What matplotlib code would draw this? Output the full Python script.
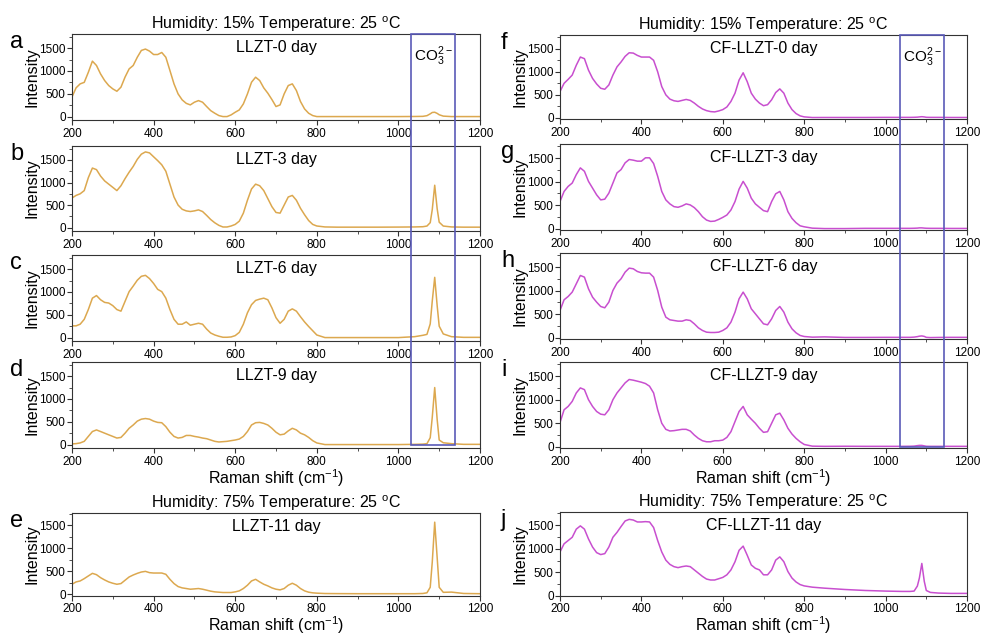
import matplotlib
matplotlib.use('Agg')
import matplotlib.pyplot as plt
import numpy as np
from matplotlib.patches import Rectangle
from matplotlib.ticker import MultipleLocator

plt.rcParams['font.family'] = ['Liberation Sans', 'DejaVu Sans']

# Raman shift sampling grid (cm-1)
shift = np.concatenate([np.arange(200, 801, 10),
                        [820, 850, 900, 950, 1000, 1040, 1060, 1070, 1078, 1083,
                         1089, 1095, 1100, 1110, 1130, 1160, 1200]])

# LLZT, humidity 15 % (a-d) and 75 % (e)
llzt_0 = [430, 630, 717, 750, 970, 1215, 1120, 935, 790, 680,
          607, 555, 645, 865, 1045, 1120, 1300, 1450, 1480, 1435,
          1360, 1360, 1405, 1300, 1010, 717, 497, 366, 290, 256,
          315, 350, 315, 220, 130, 73, 22, 0, 0, 37,
          95, 146, 278, 497, 753, 863, 790, 629, 512, 373,
          220, 256, 497, 680, 717, 570, 330, 168, 73, 22, 0,
          0, 0, 0, 0, 0, 2, 5, 20, 60, 90, 95, 70, 40, 10, 0, 0, 0]
llzt_3 = [657, 714, 750, 821, 1107, 1321, 1286, 1143, 1036, 964,
          893, 821, 929, 1086, 1229, 1357, 1514, 1629, 1679, 1657,
          1571, 1486, 1393, 1250, 964, 679, 500, 407, 371, 357,
          371, 393, 357, 271, 179, 107, 50, 14, 14, 36,
          71, 143, 321, 607, 857, 964, 929, 821, 643, 464,
          336, 321, 500, 679, 714, 607, 429, 286, 157, 71, 36,
          15, 10, 10, 10, 12, 15, 20, 35, 110, 400, 940, 420, 120, 35, 15, 10, 10]
llzt_6 = [257, 257, 293, 400, 614, 864, 921, 829, 771, 757,
          700, 614, 579, 793, 1007, 1129, 1257, 1343, 1364, 1293,
          1186, 1057, 1007, 864, 614, 400, 293, 293, 343, 271,
          293, 314, 293, 186, 100, 57, 29, 7, 7, 14,
          43, 114, 293, 543, 721, 814, 843, 864, 829, 650,
          436, 314, 400, 579, 629, 579, 457, 343, 243, 150, 57,
          0, 0, 0, 0, 0, 20, 50, 70, 300, 800, 1320, 700, 250, 80, 20, 5, 5]
llzt_9 = [14, 21, 36, 71, 179, 286, 321, 286, 250, 214,
          179, 143, 157, 250, 357, 429, 514, 557, 571, 557,
          514, 486, 479, 393, 271, 179, 143, 157, 200, 200,
          179, 164, 143, 129, 100, 71, 57, 64, 71, 86,
          100, 121, 179, 286, 429, 479, 486, 464, 429, 357,
          271, 214, 229, 300, 357, 321, 250, 214, 157, 86, 36,
          0, 0, 0, 0, 0, 5, 10, 20, 150, 600, 1250, 550, 100, 40, 20, 5, 5]
llzt_11 = [216, 267, 288, 339, 397, 454, 425, 360, 310, 267,
           238, 216, 231, 303, 375, 418, 454, 483, 497, 469,
           461, 461, 461, 433, 324, 231, 166, 137, 123, 108,
           115, 123, 108, 87, 65, 50, 43, 36, 36, 36,
           50, 72, 123, 195, 288, 324, 267, 216, 180, 137,
           108, 94, 123, 195, 238, 195, 123, 72, 43, 29, 22,
           14, 12, 10, 10, 10, 10, 15, 30, 150, 700, 1570, 800, 150, 40, 45, 15, 10]

# CF-LLZT, humidity 15 % (f-i) and 75 % (j)
cf_0 = [571, 750, 836, 929, 1143, 1321, 1286, 1036, 857, 736,
        643, 621, 714, 929, 1107, 1214, 1336, 1414, 1407, 1357,
        1321, 1321, 1321, 1250, 1000, 679, 500, 407, 371, 357,
        379, 400, 379, 321, 250, 193, 157, 136, 129, 150,
        179, 236, 357, 536, 821, 979, 786, 536, 407, 321,
        264, 286, 393, 550, 629, 536, 321, 179, 93, 43, 21,
        7, 8, 8, 8, 10, 10, 10, 12, 15, 20, 25, 20, 12, 10, 10, 8, 8]
cf_3 = [579, 793, 900, 971, 1150, 1293, 1221, 1007, 864, 721,
        614, 629, 757, 971, 1186, 1257, 1400, 1471, 1457, 1436,
        1436, 1507, 1507, 1386, 1114, 793, 614, 529, 471, 457,
        486, 529, 507, 450, 364, 257, 186, 157, 164, 200,
        243, 293, 400, 579, 843, 1007, 864, 650, 529, 457,
        386, 364, 579, 743, 793, 614, 364, 221, 129, 64, 43,
        14, 5, 5, 10, 10, 10, 10, 12, 15, 20, 20, 15, 12, 10, 10, 8, 8]
cf_6 = [580, 807, 877, 970, 1146, 1323, 1288, 1040, 863, 757,
        665, 637, 757, 1005, 1161, 1253, 1394, 1479, 1465, 1408,
        1380, 1373, 1373, 1288, 1005, 651, 439, 382, 368, 354,
        354, 382, 368, 297, 212, 156, 120, 113, 113, 120,
        156, 212, 333, 545, 828, 970, 828, 616, 510, 403,
        297, 276, 403, 580, 665, 545, 333, 191, 106, 50, 28,
        14, 20, 8, 8, 10, 10, 10, 15, 25, 35, 40, 30, 10, 5, 8, 10, 10]
cf_9 = [514, 786, 857, 964, 1143, 1250, 1214, 1000, 857, 750,
        693, 679, 786, 1000, 1143, 1250, 1357, 1429, 1414, 1393,
        1371, 1343, 1286, 1143, 786, 500, 371, 336, 343, 357,
        371, 371, 336, 250, 179, 129, 107, 107, 129, 129,
        143, 200, 321, 536, 750, 857, 679, 586, 500, 393,
        307, 321, 500, 679, 714, 571, 393, 271, 179, 107, 50,
        14, 10, 12, 10, 10, 10, 12, 15, 25, 30, 30, 20, 12, 10, 10, 10, 10]
cf_11 = [933, 1106, 1175, 1244, 1417, 1486, 1417, 1209, 1037, 919,
         878, 898, 1037, 1244, 1348, 1472, 1590, 1624, 1610, 1569,
         1569, 1576, 1569, 1451, 1175, 933, 760, 670, 622, 601,
         622, 636, 622, 553, 484, 415, 359, 339, 339, 366,
         394, 449, 553, 726, 968, 1057, 864, 657, 587, 553,
         449, 449, 553, 760, 829, 726, 518, 380, 297, 242, 214,
         187, 166, 138, 117, 104, 97, 97, 104, 210, 380, 690, 311, 117, 76, 62, 55, 55]

left_names = ['LLZT-0 day', 'LLZT-3 day', 'LLZT-6 day', 'LLZT-9 day', 'LLZT-11 day']
right_names = ['CF-LLZT-0 day', 'CF-LLZT-3 day', 'CF-LLZT-6 day', 'CF-LLZT-9 day', 'CF-LLZT-11 day']
left_letters = ['a', 'b', 'c', 'd', 'e']
right_letters = ['f', 'g', 'h', 'i', 'j']

W, H = 984, 637
fig = plt.figure(figsize=(W / 100, H / 100), dpi=100)

gold = '#dca84f'
pink = '#c84fcf'
box_col = '#5a5ab8'


def px_axes(left, top, width, height):
    return fig.add_axes([left / W, 1 - (top + height) / H, width / W, height / H])


def style(ax, ylim):
    ax.set_xlim(200, 1200)
    ax.set_ylim(*ylim)
    ax.xaxis.set_major_locator(MultipleLocator(200))
    ax.xaxis.set_minor_locator(MultipleLocator(100))
    ax.yaxis.set_major_locator(MultipleLocator(500))
    ax.yaxis.set_minor_locator(MultipleLocator(250))
    ax.tick_params(which='both', direction='out', labelsize=8.5, color='#333333')
    ax.tick_params(which='major', length=3.5)
    ax.tick_params(which='minor', length=2)
    ax.tick_params(axis='x', pad=2)
    ax.tick_params(axis='y', pad=1)
    for s in ax.spines.values():
        s.set_color('#333333')
        s.set_linewidth(0.8)
    ax.set_ylabel('Intensity', fontsize=11.5, labelpad=0)


left_boxes = [(72, 34, 408, 86), (72, 146, 408, 85), (72, 255, 408, 86),
              (72, 362, 408, 86), (72, 513, 408, 83)]
right_boxes = [(560, 35, 407, 84), (560, 144, 407, 86), (560, 253, 407, 86),
               (560, 362, 407, 86), (560, 512, 407, 84)]
left_data = [llzt_0, llzt_3, llzt_6, llzt_9, llzt_11]
right_data = [cf_0, cf_3, cf_6, cf_9, cf_11]
left_ylims = [(-75, 1810)] * 4 + [(-40, 1770)]
right_ylims = [(-25, 1800)] * 4 + [(0, 1780)]

xlab = 'Raman shift (cm$^{\\mathregular{-1}}$)'

left_axes, right_axes = [], []
for boxes, data, names, letters, ylims, col, store, lx in [
        (left_boxes, left_data, left_names, left_letters, left_ylims, gold, left_axes, 10),
        (right_boxes, right_data, right_names, right_letters, right_ylims, pink, right_axes, 501)]:
    for i in range(5):
        b = boxes[i]
        ax = px_axes(*b)
        ax.plot(shift, data[i], color=col, lw=1.1, solid_joinstyle='round')
        style(ax, ylims[i])
        ax.text(0.5, 0.93, names[i], transform=ax.transAxes, ha='center', va='top', fontsize=11.5)
        fig.text(lx / W, 1 - (b[1] + 14) / H, letters[i], fontsize=17, va='baseline', ha='left')
        if i == 3:
            ax.set_xlabel(xlab, fontsize=11.5, labelpad=0)
        if i == 4:
            ax.tick_params(axis='x', pad=1.5)
            ax.set_xlabel(xlab, fontsize=11.5, labelpad=-0.5)
        store.append(ax)

hum15 = 'Humidity: 15% Temperature: 25 $^{\\mathregular{o}}$C'
hum75 = 'Humidity: 75% Temperature: 25 $^{\\mathregular{o}}$C'
left_axes[0].set_title(hum15, fontsize=11.5, pad=3)
right_axes[0].set_title(hum15, fontsize=11.5, pad=3)
left_axes[4].set_title(hum75, fontsize=11.5, pad=3)
right_axes[4].set_title(hum75, fontsize=11.5, pad=3)


def co3_box(ax_top, ax_bot, x0, x1):
    inv = fig.transFigure.inverted()
    fx0, fy1 = inv.transform(ax_top.transData.transform((x0, ax_top.get_ylim()[1])))
    fx1, fy0 = inv.transform(ax_bot.transData.transform((x1, 0)))
    fig.add_artist(Rectangle((fx0, fy0), fx1 - fx0, fy1 - fy0, transform=fig.transFigure,
                             fill=False, ec=box_col, lw=1.2, zorder=10))
    ax_top.text((x0 + x1) / 2, 1330, 'CO$_\\mathregular{3}^\\mathregular{2-}$',
                ha='center', va='center', fontsize=11)


co3_box(left_axes[0], left_axes[3], 1031, 1138)
co3_box(right_axes[0], right_axes[3], 1036, 1143)

fig.savefig('out.png', dpi=100)
